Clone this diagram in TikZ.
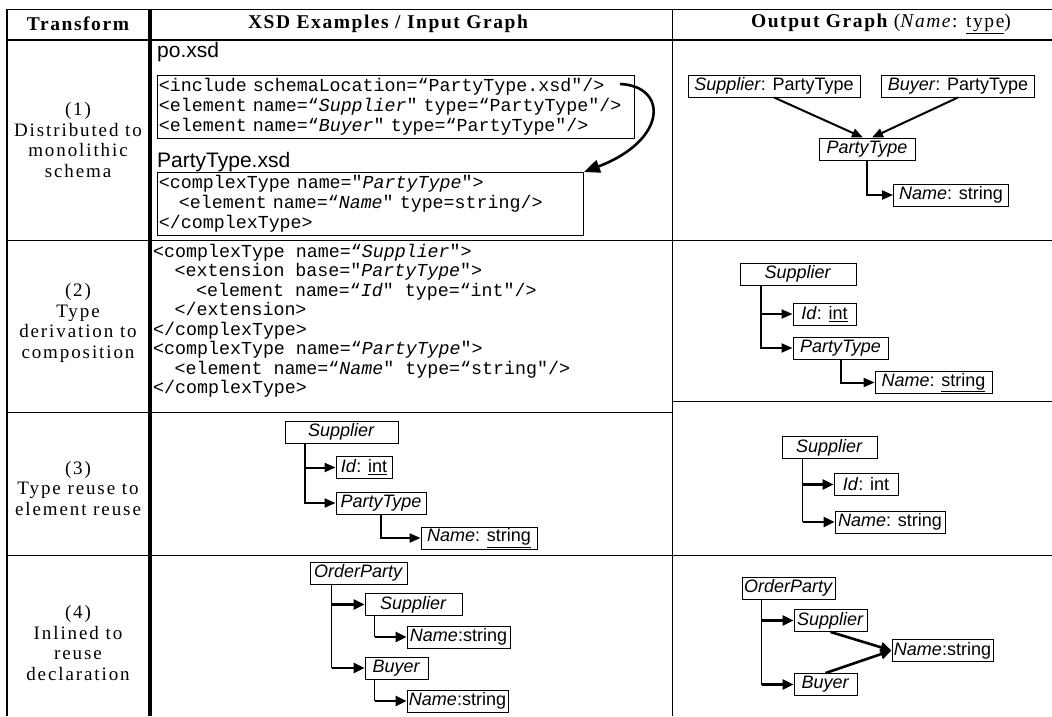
\documentclass[tikz,border=0pt]{standalone}
\usepackage{fontspec}
\setmainfont{Liberation Serif}
\newfontfamily\hdrfont[LetterSpace=8]{Liberation Serif}
\newfontfamily\lcolfont[LetterSpace=10]{Liberation Serif}
\newfontfamily\sansf{Liberation Sans}
\newfontfamily\codef{Liberation Mono}
\usetikzlibrary{arrows.meta}
\newcommand\ci[1]{{\itshape #1}}
\newcommand\codesize[1]{\codef\fontsize{18.3}{#1}\selectfont}
\begin{document}
\begin{tikzpicture}[x=1pt,y=-1pt,
  hdr/.style={font=\hdrfont\bfseries\fontsize{19.5}{20}\selectfont, inner sep=0pt},
  lcol/.style={align=center, inner sep=0pt, font=\lcolfont\fontsize{19}{20.5}\selectfont},
  codebox/.style={draw, line width=0.9pt, anchor=north west, inner xsep=1.5pt, inner ysep=0pt,
     align=left, font=\codesize{20}},
  code/.style={anchor=north west, inner sep=0pt, align=left, font=\codesize{19.5}},
  ftitle/.style={anchor=base west, inner sep=0pt, font=\sansf\fontsize{21}{21}\selectfont},
  lbl/.style={draw, line width=0.9pt, inner xsep=2pt, inner ysep=0pt, minimum height=22pt,
     font=\sansf\fontsize{18}{18}\selectfont},
  tarr/.style={line width=2pt, -{Triangle[length=11pt,width=9pt]}},
  vthin/.style={line width=1pt},
  harr/.style={line width=2.6pt, -{Triangle[length=11pt,width=10pt]}},
  curv/.style={line width=2.6pt, -{Triangle[length=16pt,width=13pt]}},
  grid/.style={line width=1pt}
]
\useasboundingbox (0,0) rectangle (1052,716);
\fill[white] (0,0) rectangle (1052,716);

% table grid
\draw[grid] (7,9) -- (1052,9);
\draw[line width=2pt] (7,40) -- (1052,40);
\draw[grid] (7,240) -- (1052,240);
\draw[grid] (7,412) -- (672,412);
\draw[grid] (672,401) -- (1052,401);
\draw[grid] (7,555) -- (1052,555);
\draw[line width=1.4pt] (7,9) -- (7,716);
\draw[line width=3.6pt] (150,9) -- (150,716);
\draw[grid] (672,9) -- (672,716);

% header
\node[hdr] (h1) at (78,24) {Transform};
\node[hdr] (h2) at (388,24) {XSD Examples / Input Graph};
\node[hdr] (h3) at (881,24) {Output Graph {\mdseries(\textit{Name}: \underline{type})}};

% left column
\node[lcol] (t1) at (78,140) {(1)\\Distributed to\\monolithic\\schema};
\node[lcol] (t2) at (78,323) {(2)\\Type\\derivation to\\composition};
\node[lcol] (t3) at (78,488) {(3)\\Type reuse to\\element reuse};
\node[lcol] (t4) at (78,643) {(4)\\Inlined to\\reuse\\declaration};

% row 1, input
\node[ftitle] (f1) at (157,57) {po.xsd};
\node[codebox, minimum width=477pt, minimum height=63pt, text width=474pt] (cb1) at (157,75)
 {<include schemaLocation=“PartyType.xsd"/>\\
  <element name=“\ci{Supplier}" type=“PartyType"/>\\
  <element name=“\ci{Buyer}" type=“PartyType"/>};
\node[ftitle] (f2) at (157,167) {PartyType.xsd};
\node[codebox, minimum width=426pt, minimum height=63pt, text width=423pt] (cb2) at (157,172)
 {<complexType name="\ci{PartyType}">\\
  \hspace*{20pt}<element name=“\ci{Name}" type=string/>\\
  </complexType>};
\coordinate (inc) at (620,84);
\draw[curv] (inc) .. controls (668,86) and (668,140) .. (cb2.north east);

% row 1, output
\node[lbl, minimum width=172pt] (s1) at (774,86) {\textit{Supplier}: PartyType};
\node[lbl, minimum width=153pt] (b1) at (958,86) {\textit{Buyer}: PartyType};
\node[lbl, minimum width=96pt] (p1) at (867,149) {\textit{PartyType}};
\node[lbl, minimum width=115pt] (n1) at (951,195) {\textit{Name}: string};
\draw[tarr] (s1.south) -- ([xshift=-4pt]p1.north);
\draw[tarr] (b1.south) -- ([xshift=5pt]p1.north);
\draw[tarr] (p1.south) |- (n1.west);

% row 2, input
\node[code] (c2) at (153,244)
 {<complexType name=“\ci{Supplier}">\\
  \hspace*{21.5pt}<extension base="\ci{PartyType}">\\
  \hspace*{43pt}<element name=“\ci{Id}" type=“int"/>\\
  \hspace*{21.5pt}</extension>\\
  </complexType>\\
  <complexType name=“\ci{PartyType}">\\
  \hspace*{21.5pt}<element name=“\ci{Name}" type=“string"/>\\
  </complexType>};

% row 2, output
\node[lbl, minimum width=116pt] (s2) at (798,274) {\textit{Supplier}};
\node[lbl, minimum width=63pt] (i2) at (824.5,314) {\textit{Id}: \underline{int}};
\node[lbl, minimum width=95pt] (p2) at (840.5,348) {\textit{PartyType}};
\node[lbl, minimum width=117pt] (n2) at (933.5,382.5) {\textit{Name}: \underline{string}};
\coordinate (s2v) at ([xshift=21pt]s2.south west);
\draw[tarr] (s2v) |- (i2.west);
\draw[tarr] (s2v) |- (p2.west);
\draw[tarr] (p2.south) |- (n2.west);

% row 3, input
\node[lbl, minimum width=113pt] (s3) at (341.5,432) {\textit{Supplier}};
\node[lbl, minimum width=56pt] (i3) at (364,467.5) {\textit{Id}: \underline{int}};
\node[lbl, minimum width=90pt] (p3) at (381,503) {\textit{PartyType}};
\node[lbl, minimum width=116pt] (n3) at (479,538) {\textit{Name}: \underline{string}};
\coordinate (s3v) at ([xshift=20pt]s3.south west);
\draw[tarr] (s3v) |- (i3.west);
\draw[tarr] (s3v) |- (p3.west);
\draw[tarr] (p3.south) |- (n3.west);

% row 3, output
\node[lbl, minimum width=95pt] (s4) at (829.5,447.5) {\textit{Supplier}};
\node[lbl, minimum width=64pt] (i4) at (866,484.5) {\textit{Id}: int};
\node[lbl, minimum width=110pt] (n4) at (890,522) {\textit{Name}: string};
\coordinate (s4v) at ([xshift=21pt]s4.south west);
\draw[vthin] (s4v) -- (s4v |- n4.west);
\draw[harr] (s4v |- i4.west) -- (i4.west);
\draw[harr] (s4v |- n4.west) -- (n4.west);

% row 4, input
\node[lbl, minimum width=97pt] (o5) at (358.5,573) {\textit{OrderParty}};
\node[lbl, minimum width=97pt] (su5) at (413.5,604.5) {\textit{Supplier}};
\node[lbl, minimum width=103pt] (na5) at (458.5,637) {\textit{Name}:string};
\node[lbl, minimum width=63pt] (bu5) at (396.5,668) {\textit{Buyer}};
\node[lbl, minimum width=101pt] (nb5) at (457.5,701) {\textit{Name}:string};
\coordinate (o5v) at ([xshift=22pt]o5.south west);
\coordinate (su5v) at ([xshift=10pt]su5.south west);
\coordinate (bu5v) at ([xshift=10pt]bu5.south west);
\draw[vthin] (o5v) -- (o5v |- bu5.west);
\draw[harr] (o5v |- su5.west) -- (su5.west);
\draw[harr] (o5v |- bu5.west) -- (bu5.west);
\draw[vthin] (su5v) -- (su5v |- na5.west);
\draw[harr] (su5v |- na5.west) -- (na5.west);
\draw[vthin] (bu5v) -- (bu5v |- nb5.west);
\draw[harr] (bu5v |- nb5.west) -- (nb5.west);

% row 4, output
\node[lbl, minimum width=93pt] (o6) at (788.5,588) {\textit{OrderParty}};
\node[lbl, minimum width=73pt] (su6) at (830.5,620.5) {\textit{Supplier}};
\node[lbl, minimum width=101pt] (n6) at (942.5,650.5) {\textit{Name}:string};
\node[lbl, minimum width=63pt] (bu6) at (825.5,684.5) {\textit{Buyer}};
\coordinate (o6v) at ([xshift=20pt]o6.south west);
\draw[vthin] (o6v) -- (o6v |- bu6.west);
\draw[harr] (o6v |- su6.west) -- (su6.west);
\draw[harr] (o6v |- bu6.west) -- (bu6.west);
\draw[harr] (su6.south) -- (n6.west);
\draw[harr] (bu6.north) -- (n6.west);
\end{tikzpicture}
\end{document}
